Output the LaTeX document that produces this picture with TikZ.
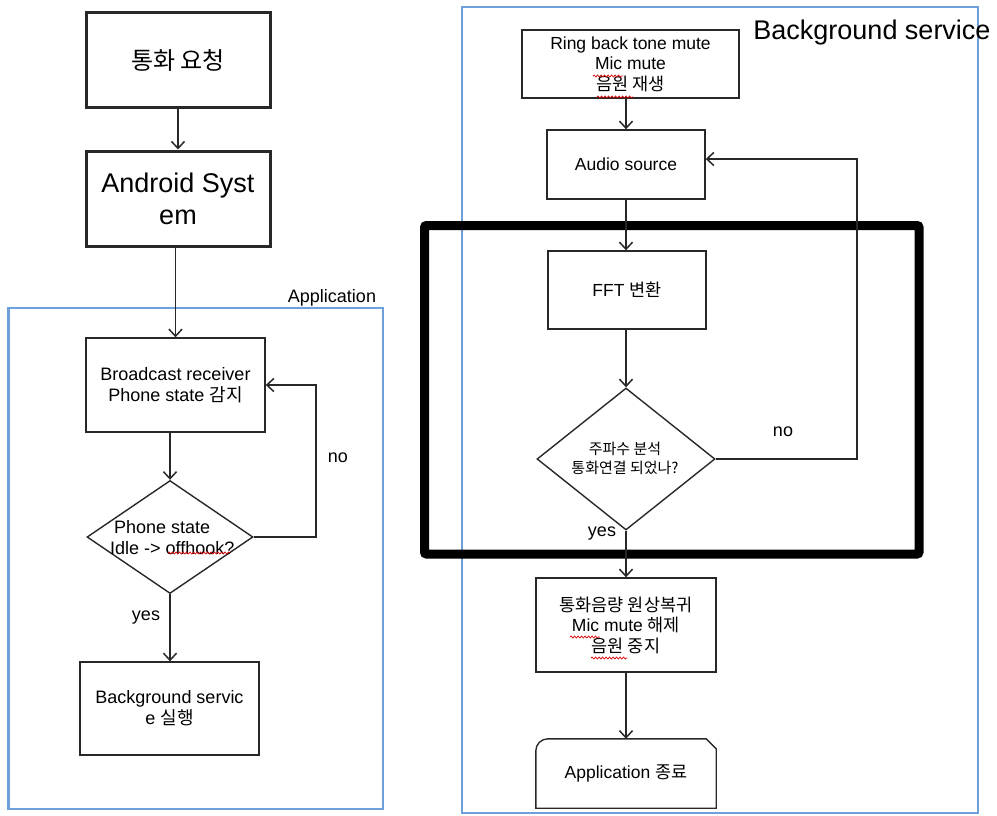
\documentclass[tikz,border=0pt]{standalone}
\usepackage{fontspec}
\setmainfont{Liberation Sans}
\newfontfamily\kr{Noto Sans CJK KR}[Scale=1.0]
\usetikzlibrary{arrows.meta,shapes.geometric,decorations.pathmorphing}
\definecolor{boxc}{RGB}{40,40,40}
\definecolor{bluec}{RGB}{110,160,220}
\tikzset{
  box/.style={draw=boxc, line width=1.4pt, inner sep=0pt, align=center, font=\fontsize{17.5}{20.5}\selectfont},
  bigbox/.style={draw=boxc, line width=3pt, inner sep=0pt, align=center, font=\fontsize{27}{32}\selectfont},
  dia/.style={draw=boxc, line width=1.4pt, shape=diamond, inner sep=0pt},
  arr/.style={draw=boxc, line width=1.4pt, -{Straight Barb[length=7pt,width=13pt,line width=1.5pt]}},
  line/.style={draw=boxc, line width=1.4pt},
  lbl/.style={inner sep=0pt, font=\fontsize{18}{21}\selectfont},
  container/.style={draw=bluec, line width=2.5pt},
  squig/.style={draw=red!85!black, line width=0.7pt, decorate, decoration={snake, amplitude=1pt, segment length=3.5pt}}
}
\begin{document}
\begin{tikzpicture}[x=1pt,y=-1pt]
\useasboundingbox (0,0) rectangle (997,815);
% containers
\draw[container] (8.5,308) rectangle (383,809);
\draw[container] (462,7) rectangle (978,813);
\node[lbl, font=\fontsize{18}{21}\selectfont] (applbl) at (332,298) {Application};
\node[lbl, font=\fontsize{27}{32}\selectfont] (bglbl) at (872,33) {Background service};
% thick highlight box
\draw[line width=9pt, rounded corners=2pt] (424.5,225.5) rectangle (919,554);

% left column
\node[bigbox, minimum width=184, minimum height=95, font=\fontsize{24}{28}\selectfont] (n1) at (178,60) {{\kr 통화 요청}};
\node[bigbox, minimum width=184, minimum height=95] (n2) at (178,198.5) {Android Syst\\em};
\node[box, minimum width=179, minimum height=94, font=\fontsize{18}{21}\selectfont] (n3) at (175.5,385) {Broadcast receiver\\Phone state {\kr 감지}};
\node[dia, minimum width=166, minimum height=113] (d1) at (170,537) {};
\node[lbl, anchor=west, align=left] (d1t) at (110,537.5) {\hspace*{4pt}Phone state\\Idle -> offhook?};
\node[box, minimum width=179, minimum height=93, font=\fontsize{18}{21}\selectfont] (n4) at (169.5,708.5) {Background servic\\e {\kr 실행}};
\coordinate (loopL) at (316,537);

\draw[arr] (n1.south) -- (n2.north);
\draw[arr] (n2.south -| n3.north) -- (n3.north);
\draw[arr] (n3.south -| d1.north) -- (d1.north);
\draw[arr] (d1.south) -- (d1.south |- n4.north);
\draw[arr] (d1.east) -- (loopL) |- (n3.east);
\node[lbl] (nol) at (338,458) {no};
\node[lbl] (yesl) at (146,618) {yes};

% right column
\node[box] (r1) [minimum width=217, minimum height=68] at (630.5,64) {Ring back tone mute\\Mic mute\\{\kr 음원 재생}};
\node[box, minimum width=158, minimum height=69] (r2) at (626,164.5) {Audio source};
\node[box, minimum width=158, minimum height=78] (r3) at (627,290) {FFT {\kr 변환}};
\node[dia, minimum width=178, minimum height=142] (d2) at (626,459) {};
\node[lbl, align=center, font=\fontsize{15}{19}\selectfont] (d2t) at (625,458) {{\kr 주파수 분석}\\{\kr 통화연결 되었나?}};
\node[box, minimum width=180, minimum height=94] (r4) at (626,625) {{\kr 통화음량 원상복귀}\\Mic mute {\kr 해제}\\{\kr 음원 중지}};
\node[inner sep=0pt, minimum width=180, minimum height=69, font=\fontsize{17.5}{20.5}\selectfont] (term) at (626,773.5) {Application {\kr 종료}};
\draw[line] (term.south west) [rounded corners=12pt]-- (term.north west) [sharp corners]-- ([xshift=-10pt]term.north east) -- ([yshift=-10pt]term.north east) -- (term.south east) -- cycle;
\coordinate (loopR) at (857,459);

\draw[arr] (r1.south -| r2.north) -- (r2.north);
\draw[arr] (r2.south) -- (r2.south |- r3.north);
\draw[arr] (r3.south -| d2.north) -- (d2.north);
\draw[arr] (d2.south) -- (r4.north);
\draw[arr] (r4.south) -- (term.north);
\draw[arr] (d2.east) -- (loopR) |- ([yshift=5.5pt]r2.east);
\node[lbl] (nor) at (783,432) {no};
\node[lbl] (yesr) at (602,534) {yes};

% spell-check squiggles
\draw[squig] (168,553) -- (230,553);
\draw[squig] (593,76) -- (623,76);
\draw[squig] (597,97) -- (633,97);
\draw[squig] (570,637) -- (600,637);
\draw[squig] (591,658) -- (627,658);
\end{tikzpicture}
\end{document}
